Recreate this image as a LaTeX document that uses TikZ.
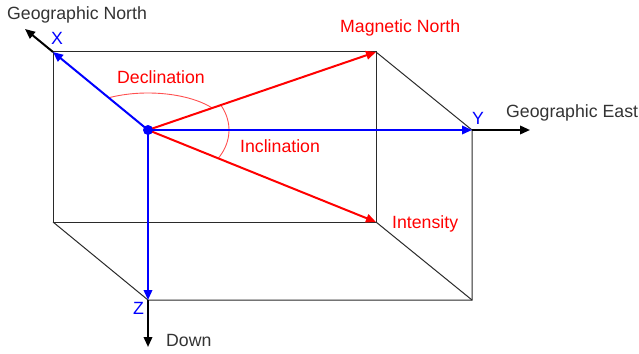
\documentclass[tikz,border=0pt]{standalone}
\usepackage{fontspec}
\setmainfont{Liberation Sans}
\usetikzlibrary{arrows.meta}
\definecolor{boxgray}{HTML}{2A2A2A}
\definecolor{txtgray}{HTML}{333333}
\definecolor{arcred}{HTML}{FF5050}
\begin{document}
\begin{tikzpicture}[x=1pt,y=-1pt,
  box/.style={draw=boxgray, line width=1pt},
  axis/.style={draw=blue, line width=2pt, -{Triangle[length=10pt,width=8.5pt]}},
  vec/.style={draw=red, line width=2pt, -{Triangle[length=10pt,width=8.5pt]}},
  ext/.style={draw=black, line width=2pt, -{Triangle[length=10pt,width=8.5pt]}},
  lbl/.style={font=\fontsize{17.7}{21}\selectfont, inner sep=0pt, anchor=base west},
  ang/.style={draw=arcred, line width=0.9pt}]
\useasboundingbox (0,0) rectangle (639,353);
\coordinate (O) at (148,130);
\coordinate (X) at (53,52);
\coordinate (B) at (376,52);
\coordinate (BL) at (53,222);
\coordinate (BR) at (376,222);
\coordinate (Y) at (472,130);
\coordinate (FR) at (472,300);
\coordinate (Z) at (148,300);
\coordinate (GN) at (25,29);
\coordinate (GE) at (530,130);
\coordinate (D) at (148,347);
% box
\draw[box] (X) -- (B) -- (BR) -- (BL) -- cycle;
\draw[box] (B) -- (Y) -- (FR) -- (Z) -- (BL);
\draw[box] (BR) -- (FR);
% extension arrows
\draw[ext] (X) -- (GN);
\draw[ext] (Y) -- (GE);
\draw[ext] (Z) -- (D);
% angle arcs
\draw[ang] ([shift={(119.4:80pt and 37pt)}]O) arc[start angle=119.4, end angle=36.5, x radius=80pt, y radius=37pt];
\draw[ang] ([shift={(25.9:81pt and 57pt)}]O) arc[start angle=25.9, end angle=-29.8, x radius=81pt, y radius=57pt];
% vectors
\draw[vec] (O) -- (B);
\draw[vec] (O) -- (BR);
% axes
\draw[axis] (O) -- (X);
\draw[axis] (O) -- (Y);
\draw[axis] (O) -- (Z);
\fill[blue] (O) circle[radius=5pt];
% labels
\node[lbl, text=txtgray] (tGN) at (7,19.5) {Geographic North};
\node[lbl, text=blue] (tX) at (51,45) {X};
\node[lbl, text=red] (tMN) at (340,33) {Magnetic North};
\node[lbl, text=red] (tDec) at (117,83) {Declination};
\node[lbl, text=red] (tInc) at (240,152) {Inclination};
\node[lbl, text=blue] (tY) at (472,124) {Y};
\node[lbl, text=txtgray] (tGE) at (506,117) {Geographic East};
\node[lbl, text=red] (tInt) at (392,228) {Intensity};
\node[lbl, text=blue] (tZ) at (133,314) {Z};
\node[lbl, text=txtgray] (tD) at (166,346) {Down};
\end{tikzpicture}
\end{document}
